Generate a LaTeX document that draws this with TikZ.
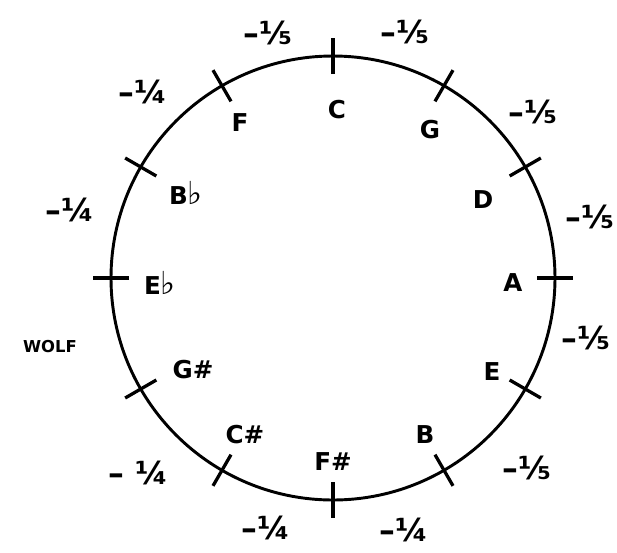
\documentclass[tikz,border=0pt]{standalone}
\usepackage{fontspec}
\setmainfont{DejaVu Sans}
\usetikzlibrary{positioning, calc}

\newcommand{\flatsign}{{\fontsize{27}{28}\selectfont ♭}}

\begin{document}
\begin{tikzpicture}[
  x=0.03cm, y=-0.03cm,
  note/.style={font=\fontsize{21}{24}\selectfont\bfseries, inner sep=0pt},
  temper/.style={font=\fontsize{27}{30}\selectfont\bfseries, inner sep=0pt},
  wolflabel/.style={font=\fontsize{14}{16}\selectfont\bfseries, inner sep=0pt},
  rim/.style={line width=2.5pt},
  tickmark/.style={line width=2.8pt}
]
\useasboundingbox (0,0) rectangle (617,552);

% the circle and its twelve marks
\coordinate (ctr) at (333,278);
\draw[rim] (ctr) circle[radius=222];
\foreach \a in {0,30,...,330}
  \draw[tickmark] ($(ctr)+(\a:204)$) -- ($(ctr)+(\a:240)$);

% notes, inside
\node[note] (C)  at (337,110) {C};
\node[note] (G)  at (430,130) {G};
\node[note] (D)  at (483,200) {D};
\node[note] (A)  at (513,283) {A};
\node[note] (E)  at (492,372) {E};
\node[note] (B)  at (425,435) {B};
\node[note] (Fs) at (333,462) {F\#};
\node[note] (Cs) at (245,435) {C\#};
\node[note] (Gs) at (193,370) {G\#};
\node[note] (Eb) at (160,283) {E\flatsign};
\node[note] (Bb) at (186,193) {B\flatsign};
\node[note] (F)  at (240,123) {F};

% tempering of each fifth, outside
\node[temper] (fc)   at (268,33)  {–⅕};
\node[temper] (cg)   at (405,32)  {–⅕};
\node[temper] (gd)   at (533,112) {–⅕};
\node[temper] (da)   at (590,217) {–⅕};
\node[temper] (ae)   at (586,338) {–⅕};
\node[temper] (eb)   at (527,468) {–⅕};
\node[temper] (bfs)  at (404,530) {–¼};
\node[temper] (fscs) at (266,528) {–¼};
\node[temper] (csgs) at (138,473) {– ¼};
\node[wolflabel] (wolf) at (50,347) {WOLF};
\node[temper] (ebbb) at (70,210)  {–¼};
\node[temper] (bbf)  at (143,92)  {–¼};
\end{tikzpicture}
\end{document}
